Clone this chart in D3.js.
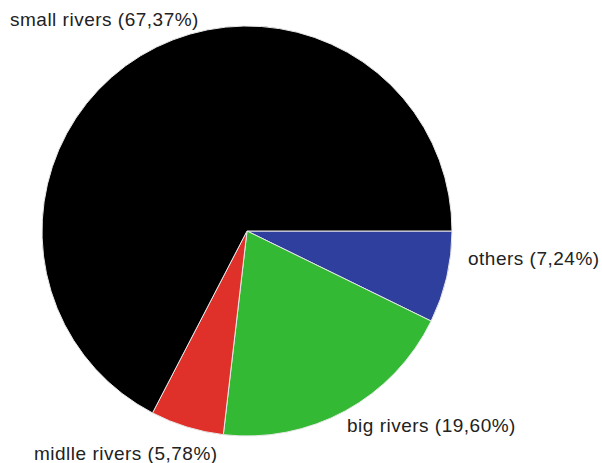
<!DOCTYPE html>
<html>
<head>
<meta charset="utf-8">
<script src="https://cdn.jsdelivr.net/npm/d3@7"></script>
<style>
  body { margin: 0; background: #fff; }
</style>
</head>
<body>
<svg id="chart"></svg>
<script>
const width = 602, height = 463;

// slices in drawing order, clockwise from 3 o'clock
const categories = ["others", "big rivers", "midlle rivers", "small rivers"];
const values = [7.24, 19.60, 5.78, 67.37];
const labels = ["others (7,24%)", "big rivers (19,60%)", "midlle rivers (5,78%)", "small rivers (67,37%)"];
const colors = ["#2e3f9e", "#33b934", "#e0302a", "#000000"];

const cx = 247, cy = 231, radius = 205;

const svg = d3.select("#chart")
    .attr("width", width)
    .attr("height", height)
    .attr("font-family", "Liberation Sans, Arial, sans-serif")
    .attr("font-size", 19)
    .attr("letter-spacing", 0.5);

const color = d3.scaleOrdinal().domain(categories).range(colors);

const pie = d3.pie()
    .sort(null)
    .value(d => d.value)
    .startAngle(Math.PI / 2)
    .endAngle(Math.PI / 2 + 2 * Math.PI);

const arc = d3.arc().innerRadius(0).outerRadius(radius);

const data = categories.map((c, i) => ({name: c, value: values[i], label: labels[i]}));
const arcs = pie(data);

const g = svg.append("g").attr("transform", `translate(${cx},${cy})`);

g.selectAll("path")
    .data(arcs)
    .enter()
    .append("path")
    .attr("d", arc)
    .attr("fill", d => color(d.data.name))
    .attr("stroke", "#e8e8e8")
    .attr("stroke-width", 1)
    .attr("stroke-linejoin", "round");

// label positions, placed by hand next to each slice
const labelPos = {
    "others": [468, 265],
    "big rivers": [347, 432],
    "midlle rivers": [34, 460],
    "small rivers": [10, 26]
};

svg.selectAll("text.label")
    .data(data)
    .enter()
    .append("text")
    .attr("class", "label")
    .attr("x", d => labelPos[d.name][0])
    .attr("y", d => labelPos[d.name][1])
    .attr("fill", "#222")
    .text(d => d.label);
</script>
</body>
</html>
